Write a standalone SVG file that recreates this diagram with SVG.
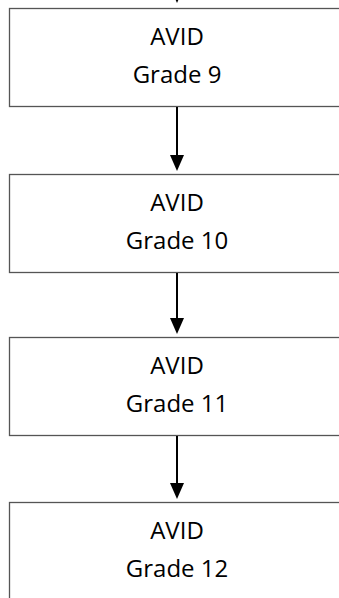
<svg xmlns="http://www.w3.org/2000/svg" width="339" height="598" viewBox="0 0 339 598">
<defs>
<style>
.box{fill:#fff;stroke:#555;stroke-width:1.3}
.lbl{font-family:"Open Sans","Liberation Sans",sans-serif;font-size:24px;fill:#000;text-anchor:middle}
.conn{stroke:#000;stroke-width:2;fill:none}
.head{fill:#000}
</style>
</defs>
<rect width="339" height="598" fill="#fff"/>
<g id="node-grade9">
<rect class="box" x="9.5" y="8.5" width="345" height="98"/>
<text class="lbl" x="177" y="45">AVID</text>
<text class="lbl" x="177" y="83">Grade 9</text>
</g>
<g id="node-grade10">
<rect class="box" x="9.5" y="174.5" width="345" height="98"/>
<text class="lbl" x="177" y="211">AVID</text>
<text class="lbl" x="177" y="249">Grade 10</text>
</g>
<g id="node-grade11">
<rect class="box" x="9.5" y="337.5" width="345" height="98"/>
<text class="lbl" x="177" y="374">AVID</text>
<text class="lbl" x="177" y="412">Grade 11</text>
</g>
<g id="node-grade12">
<rect class="box" x="9.5" y="502.5" width="345" height="110"/>
<text class="lbl" x="177" y="539">AVID</text>
<text class="lbl" x="177" y="577">Grade 12</text>
</g>
<g id="connectors">
<polygon class="head" points="170,-13 184,-13 177,3"/>
<line class="conn" x1="177" y1="107" x2="177" y2="156"/>
<polygon class="head" points="170,155 184,155 177,171"/>
<line class="conn" x1="177" y1="273" x2="177" y2="319"/>
<polygon class="head" points="170,318 184,318 177,334"/>
<line class="conn" x1="177" y1="436" x2="177" y2="484"/>
<polygon class="head" points="170,483 184,483 177,499"/>
</g>
</svg>
